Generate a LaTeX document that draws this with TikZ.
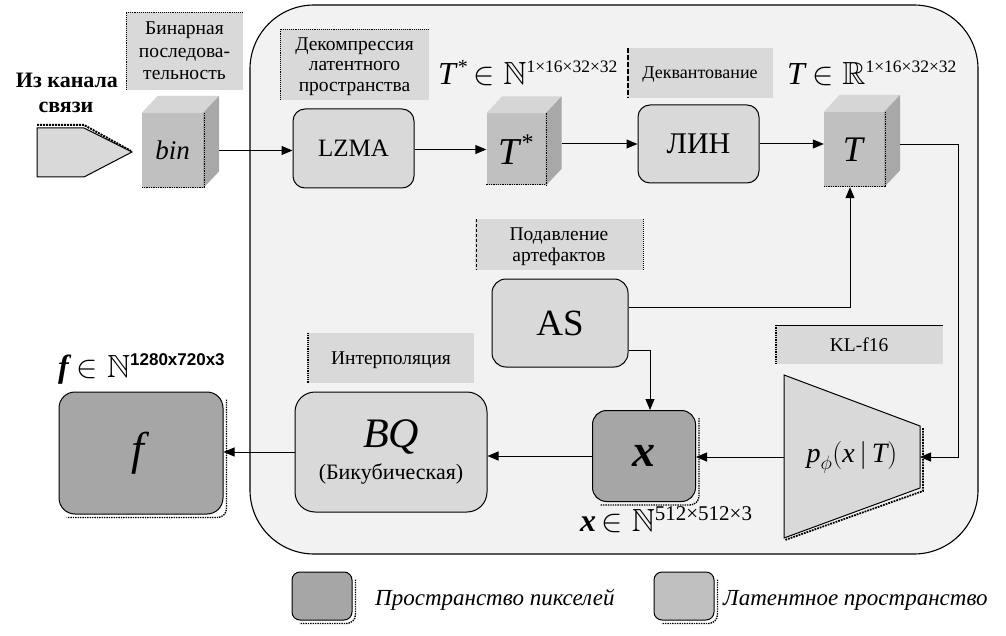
\RequirePackage{fix-cm}
\documentclass[tikz,border=0pt]{standalone}
\usepackage{amssymb}
\usepackage{fontspec}
\setmainfont{Liberation Serif}
\setsansfont{Liberation Sans}
\usetikzlibrary{arrows.meta,calc}
\definecolor{bgbox}{HTML}{F2F2F2}
\definecolor{lblgray}{HTML}{D9D9D9}
\definecolor{procgray}{HTML}{D9D9D9}
\definecolor{cubefront}{HTML}{C0C0C0}
\definecolor{cubetop}{HTML}{D6D6D6}
\definecolor{cubeside}{HTML}{A8A8A8}
\definecolor{darkgray}{HTML}{A6A6A6}
\definecolor{latgray}{HTML}{C0C0C0}
\newcommand\fsz[1]{\fontsize{#1}{#1}\selectfont}
\newcommand\cubefaces[1]{%
  \fill[cubetop] (#1.north west) -- ++(16,-17) -- ([shift={(16,-17)}]#1.north east) -- (#1.north east) -- cycle;
  \fill[cubeside] (#1.north east) -- ([shift={(16,-17)}]#1.north east) -- ([shift={(16,-17)}]#1.south east) -- (#1.south east) -- cycle;
  \draw[densely dotted, line width=1.3pt] ([xshift=1]#1.north east) -- ([xshift=1]#1.south east);
  \draw[densely dotted, line width=1.3pt] ([yshift=1]#1.south west) -- ([yshift=1]#1.south east);
}
\newcommand\boxshadow[1]{%
  \draw[densely dotted, line width=1.4pt] ([shift={(3,8)}]#1.north east) -- ([shift={(3,-6)}]#1.south east) to[out=-90,in=0] ([shift={(-6,3)}]#1.south east) -- ([shift={(8,3)}]#1.south west);
}
\tikzset{
  lbl/.style={fill=lblgray, inner sep=0pt, align=center, font=\fsz{19.5}, text depth=0pt},
  proc/.style={draw, line width=1pt, fill=procgray, rounded corners=12pt, inner sep=0pt},
  cube/.style={fill=cubefront, inner sep=0pt},
  pix/.style={draw, line width=1pt, fill=darkgray, rounded corners=14pt, inner sep=0pt},
  arr/.style={-{Triangle[length=11pt,width=9pt]}, line width=1pt},
  conn/.style={line width=1pt},
  txt/.style={inner sep=0pt},
}
\begin{document}
\begin{tikzpicture}[x=1pt,y=-1pt]
\useasboundingbox (0,0) rectangle (1006,636);
\fill[white] (0,0) rectangle (1006,636);
% big container
\draw[line width=1.1pt, fill=bgbox, rounded corners=64pt] (250,5) rectangle (978,554);

% source shape
\node[txt, font=\fsz{22}\bfseries, anchor=base] (src1) at (67,88) {Из канала};
\node[txt, font=\fsz{22}\bfseries, anchor=base] (src2) at (66,113) {связи};
\draw[densely dotted, line width=2pt] (37,125) -- (84,125) -- (131,151);
\draw[line width=1pt, fill=lblgray] (37,128) -- (84,128) -- (132,152) -- (84,177) -- (37,177) -- cycle;

% labels
\node[lbl, minimum width=117, minimum height=78] (lblbin) at (184.5,51) {Бинарная\\[3pt]последова-\\[3pt]тельность};
\draw[densely dotted, line width=0.9pt] (126,90) -- (126,12) -- (243,12);
\node[lbl, minimum width=149, minimum height=71] (lbldec) at (354.5,64.5) {Декомпрессия\\[1pt]латентного\\[1pt]пространства};
\draw[densely dotted, line width=0.9pt] (280,100) -- (280,29) -- (429,29);
\node[lbl, minimum width=146, minimum height=50, font=\fsz{18}] (lbldeq) at (700,73) {Деквантование};
\draw[dashed, line width=1.1pt, dash pattern=on 5pt off 2pt] (628,48) -- (628,98);
\node[lbl, minimum width=168, minimum height=51] (lblas) at (559,244.5) {Подавление\\[1pt]артефактов};
\draw[dashed, line width=1pt, dash pattern=on 3pt off 2pt] (476,219) -- (476,270);
\draw[densely dotted, line width=1pt] (643,219) -- (643,270);
\node[lbl, minimum width=168, minimum height=39] (lblkl) at (859,344.5) {KL-f16};
\draw[line width=0.9pt] (775,325) -- (943,325);
\draw[densely dotted, line width=1.4pt] (776,325) -- (776,364);
\node[lbl, minimum width=166, minimum height=50] (lblint) at (391,358) {Интерполяция};
\draw[densely dotted, line width=1.2pt] (308,333) -- (308,383);

% cubes
\node[cube, minimum width=61, minimum height=75] (bin) at (172.5,150.5) {};
\cubefaces{bin}
\node[txt] (bintxt) at (bin.center) {\fsz{27}\textit{bin}};
\node[cube, minimum width=59, minimum height=72] (tstar) at (516,149.5) {};
\cubefaces{tstar}
\node[txt] (tstartxt) at (tstar.center) {\fsz{38}\textit{T}\raisebox{14pt}{\fsz{24}*}};
\node[cube, minimum width=60, minimum height=75] (tcube) at (854,149.5) {};
\cubefaces{tcube}
\node[txt] (ttxt) at (tcube.center) {\fsz{36}\textit{T}};

% math labels
\node[txt, anchor=base west] (tslbl) at (438,85) {\fsz{32}\textit{T}\raisebox{11pt}{\fsz{20}*}\,$\in\mathbb{N}$\raisebox{12pt}{\fsz{17.5}1×16×32×32}};
\node[txt, anchor=base west] (tlbl) at (787,85) {\fsz{32}\textit{T}\,$\in\mathbb{R}$\raisebox{12pt}{\fsz{17.5}1×16×32×32}};
\node[txt, anchor=base west] (flbl) at (58,377) {\fsz{32}\textbf{\textit{f}}\,$\in\mathbb{N}$\raisebox{12pt}{\fsz{17}\sffamily\bfseries 1280x720x3}};
\node[txt, anchor=base west] (xlbl) at (580,531) {\fsz{32}\textbf{\textit{x}}\,$\in\mathbb{N}$\raisebox{11pt}{\fsz{21}512×512×3}};

% process boxes
\node[proc, minimum width=121, minimum height=79] (lzma) at (353.5,148.5) {\fsz{25}LZMA};
\node[proc, minimum width=121, minimum height=78] (lin) at (698.5,144) {\fsz{30}ЛИН};
\node[proc, minimum width=136, minimum height=88, rounded corners=14pt] (as) at (560,323) {\fsz{37}AS};
\node[proc, minimum width=192, minimum height=120, rounded corners=20pt, align=center] (bq) at (391,452) {\fsz{42}\textit{BQ}\\[8pt]\fsz{22}(Бикубическая)};

% trapezoid
\draw[densely dotted, line width=1.8pt] (923,428) -- (923,491) -- (785,540);
\draw[line width=1pt, fill=procgray] (784,375) -- (920,426) -- (920,488) -- (784,538) -- cycle;
\node[txt] (dec) at (852,457) {\fsz{28}$\textit{p}_{\phi}\!\left(\textit{x}\,|\,\textit{T}\right)$};
\coordinate (decL) at (784,457);
\coordinate (decR) at (920,457);

% pixel-space boxes
\node[pix, minimum width=103, minimum height=91] (xbox) at (644,456) {\fsz{46}\textbf{\textit{x}}};
\boxshadow{xbox}
\node[pix, minimum width=164, minimum height=122, rounded corners=16pt] (fbox) at (141,453) {\fsz{46}\textit{f}};
\boxshadow{fbox}

% connectors
\coordinate (binR) at ([xshift=16]bin.east);
\coordinate (tstarR) at ([xshift=16]tstar.east);
\coordinate (tR) at ([shift={(16,-5)}]tcube.east);
\draw[arr] (binR) -- (lzma.west |- binR);
\draw[arr] (lzma.east |- tstar) -- (tstar.west);
\draw[arr] (tstarR |- lin) -- (lin.west);
\draw[arr] (lin.east) -- (tcube.west |- lin);
\draw[arr] (tR) -- (958,0 |- tR) -- (958,457) -- (decR);
\draw[arr] (as.east |- 0,307) -- (850,307) -- (850,0 |- tcube.south);
\draw[arr] (as.east |- 0,350) -- (650,350) -- (650,0 |- xbox.north);
\draw[arr] (decL) -- (xbox.east |- decL);
\draw[arr] (xbox.west) -- (bq.east |- xbox.west);
\draw[arr] (bq.west) -- (fbox.east |- bq.west);

% legend
\node[pix, minimum width=60, minimum height=48, rounded corners=8pt] (leg1) at (322,596) {};
\boxshadow{leg1}
\node[txt, anchor=base west, font=\fsz{23}\itshape] (leg1t) at (375,605) {Пространство пикселей};
\node[pix, minimum width=60, minimum height=48, rounded corners=8pt, fill=latgray] (leg2) at (684,596) {};
\boxshadow{leg2}
\node[txt, anchor=base west, font=\fsz{23}\itshape] (leg2t) at (723,605) {Латентное пространство};
\end{tikzpicture}
\end{document}
